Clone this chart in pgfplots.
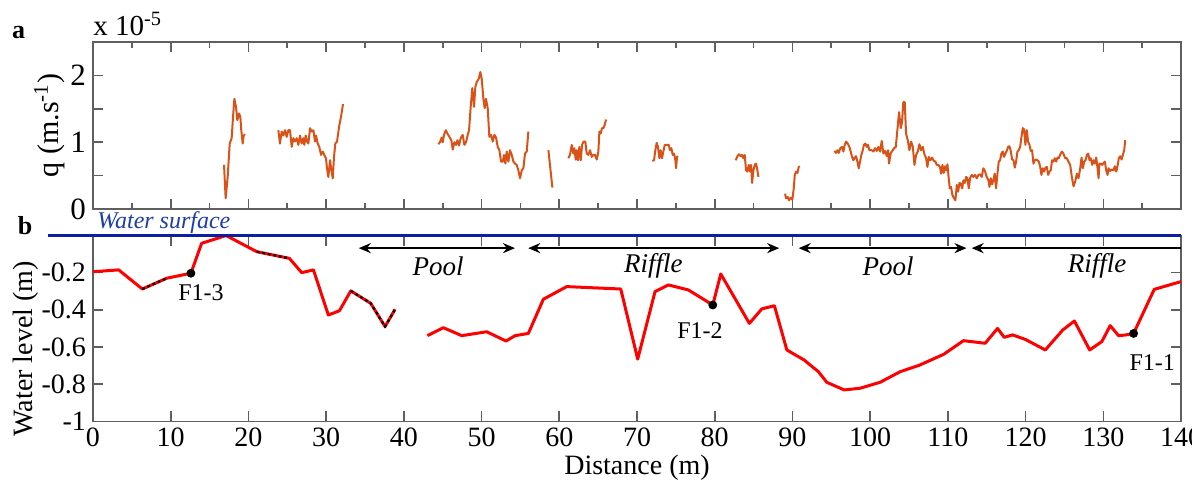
\documentclass[border=0pt]{standalone}
\usepackage{fontspec}
\setmainfont{Liberation Serif}
\usepackage{pgfplots}
\pgfplotsset{compat=1.18}
\usetikzlibrary{arrows.meta}
\definecolor{qorange}{RGB}{217,83,25}
\definecolor{wsblue}{RGB}{15,30,160}
\definecolor{wstext}{RGB}{30,60,170}
\definecolor{axgray}{RGB}{95,95,95}
\pgfplotsset{
  qseg/.style={qorange, line width=1pt, line join=round, no marks},
  commonax/.style={
    scale only axis, width=544pt, xmin=0, xmax=140,
    tick align=inside, xtick pos=both, ytick pos=both,
    major tick length=5pt, minor tick length=2.8pt,
    axis line style={axgray, line width=0.8pt},
    tick style={axgray, line width=0.8pt},
    tick label style={font=\fontsize{14}{16}\selectfont},
  },
}
\begin{document}
\begin{tikzpicture}[x=1pt,y=1pt]
\path[use as bounding box] (0,0) rectangle (596,242);
% ---------------- panel a ----------------
\begin{axis}[commonax,
  at={(46.5pt,137.5pt)}, anchor=south west, height=83.5pt,
  ymin=0, ymax=2.5,
  xtick={0,10,...,140}, minor xtick={5,15,...,135}, xticklabels={},
  ytick={0,0.5,1,1.5,2}, yticklabels={0,,1,,2},
  yticklabel style={font=\fontsize{15.5}{17}\selectfont},
  ylabel={q (m.s\textsuperscript{-1})},
  ylabel style={at={(axis description cs:-0.04,0.5)}, anchor=center, font=\fontsize{15}{17}\selectfont},
]
\addplot[qseg] coordinates {(16.86,0.66)(17.07,0.16)(17.33,0.48)(17.59,0.98)(17.84,1.06)(18.02,1.38)(18.19,1.65)(18.4,1.53)(18.57,1.33)(18.79,1.43)(18.96,1.38)(19.08,1.18)(19.26,0.98)(19.39,1.10)(19.56,1.12)};
\addplot[qseg] coordinates {(23.85,1.18)(24.06,0.98)(24.28,1.16)(24.49,1.10)(24.71,1.18)(24.92,1.08)(25.14,1.18)(25.35,1.18)(25.57,0.93)(25.78,1.06)(25.99,1.01)(26.21,1.06)(26.42,0.96)(26.64,1.10)(26.85,0.98)(27.06,1.06)(27.19,0.96)(27.37,1.10)(27.54,1.01)(27.71,0.98)(27.93,1.21)(28.14,1.16)(28.36,1.18)(28.57,1.01)(28.70,1.10)(28.91,0.98)(29.12,0.93)(29.34,0.81)(29.56,0.86)(29.76,0.81)(29.98,0.76)(30.11,0.61)(30.28,0.48)(30.50,0.73)(30.67,0.58)(30.85,0.46)(31.01,0.78)(31.18,0.98)(31.40,1.01)(31.66,1.23)(31.91,1.38)(32.17,1.57)};
\addplot[qseg] coordinates {(44.44,0.97)(44.65,1.00)(44.87,1.07)(45.0,1.00)(45.17,1.11)(45.39,1.18)(45.6,1.13)(45.86,1.08)(46.11,1.03)(46.29,0.89)(46.50,1.00)(46.72,0.96)(46.89,1.03)(47.10,0.95)(47.31,1.06)(47.57,1.11)(47.78,0.96)(48.0,1.00)(48.22,1.11)(48.39,1.18)(48.60,1.53)(48.81,1.81)(49.03,1.53)(49.20,1.83)(49.38,1.90)(49.64,1.95)(49.84,2.05)(50.02,1.95)(50.23,1.65)(50.40,1.51)(50.57,1.65)(50.79,1.51)(51.0,1.08)(51.22,1.11)(51.44,1.01)(51.65,1.11)(51.86,1.07)(52.08,0.93)(52.29,0.88)(52.50,0.71)(52.72,0.71)(52.89,0.81)(53.06,0.68)(53.24,0.86)(53.45,0.71)(53.66,0.88)(53.88,0.81)(54.09,0.71)(54.31,0.68)(54.52,0.66)(54.73,0.58)(54.95,0.46)(55.17,0.58)(55.38,0.61)(55.59,0.83)(55.81,0.86)(56.02,1.16)};
\addplot[qseg] coordinates {(58.6,0.88)(59.11,0.32)};
\addplot[qseg] coordinates {(61.17,0.76)(61.38,0.81)(61.60,0.96)(61.81,0.83)(61.94,0.91)(62.11,0.74)(62.24,0.88)(62.41,0.73)(62.58,0.93)(62.76,0.73)(62.93,0.96)(63.14,1.01)(63.35,1.01)(63.53,0.83)(63.74,0.81)(63.96,0.88)(64.17,0.78)(64.38,0.81)(64.60,0.81)(64.82,0.74)(65.03,0.86)(65.16,1.16)(65.33,1.13)(65.50,1.21)(65.67,1.21)(65.85,1.26)(66.02,1.34)};
\addplot[qseg] coordinates {(71.97,0.72)(72.19,0.73)(72.36,0.88)(72.53,0.99)(72.70,0.93)(72.88,0.76)(73.05,0.88)(73.22,0.76)(73.39,0.86)(73.57,0.96)(73.83,0.96)(74.08,0.96)(74.25,0.88)(74.42,0.91)(74.60,0.81)(74.77,0.83)(74.94,0.73)(75.03,0.61)(75.15,0.78)(75.28,0.79)};
\addplot[qseg] coordinates {(82.70,0.73)(82.92,0.79)(83.13,0.82)(83.35,0.79)(83.52,0.81)(83.69,0.76)(83.86,0.81)(84.03,0.58)(84.20,0.56)(84.38,0.66)(84.55,0.56)(84.68,0.66)(84.81,0.39)(84.98,0.58)(85.15,0.66)(85.32,0.68)(85.49,0.58)(85.62,0.48)};
\addplot[qseg] coordinates {(89.05,0.23)(89.18,0.16)(89.39,0.18)(89.56,0.13)(89.78,0.17)(89.99,0.14)(90.17,0.31)(90.30,0.51)(90.47,0.56)(90.64,0.54)(90.81,0.63)(90.94,0.64)};
\addplot[qseg] coordinates {(95.40,0.87)(95.61,0.84)(95.79,0.88)(95.96,0.84)(96.17,0.91)(96.38,0.93)(96.56,0.86)(96.73,0.96)(96.90,1.01)(97.11,0.98)(97.33,0.93)(97.50,0.86)(97.67,0.78)(97.84,0.73)(98.02,0.77)(98.19,0.79)(98.36,0.71)(98.53,0.61)(98.70,0.71)(98.87,0.81)(99.05,0.88)(99.2,0.96)(99.39,0.98)(99.56,0.93)(99.73,0.96)(99.9,0.88)(100.2,0.88)(100.42,0.86)(100.63,0.91)(100.85,0.87)(101.06,0.93)(101.28,0.86)(101.49,1.02)(101.70,0.83)(101.92,0.87)(102.14,0.79)(102.30,0.88)(102.43,0.68)(102.65,0.84)(102.86,0.87)(103.08,0.91)(103.30,0.93)(103.50,1.18)(103.72,1.45)(103.94,1.21)(104.10,1.30)(104.27,1.60)(104.45,1.60)(104.62,1.13)(104.84,1.03)(105.05,0.88)(105.27,1.01)(105.49,0.93)(105.70,0.66)(105.91,0.81)(106.13,0.86)(106.34,0.97)(106.56,0.88)(106.77,0.93)(106.98,0.82)(107.20,0.76)(107.37,0.63)(107.54,0.78)(107.75,0.73)(107.97,0.77)(108.19,0.72)(108.40,0.71)(108.57,0.66)(108.79,0.66)(109.0,0.62)(109.13,0.53)(109.30,0.66)(109.47,0.54)(109.64,0.64)(109.81,0.58)(109.94,0.67)(110.07,0.51)(110.24,0.31)(110.41,0.33)(110.58,0.21)(110.80,0.16)(110.97,0.13)(111.15,0.36)(111.32,0.26)(111.49,0.39)(111.66,0.38)(111.84,0.31)(112.0,0.43)(112.18,0.39)(112.34,0.48)(112.51,0.46)(112.69,0.31)(112.86,0.46)(113.07,0.51)(113.28,0.48)(113.50,0.51)(113.72,0.46)(113.93,0.51)(114.15,0.52)(114.36,0.48)(114.57,0.61)(114.79,0.56)(115.0,0.48)(115.22,0.43)(115.35,0.33)(115.52,0.46)(115.69,0.37)(115.86,0.43)(116.03,0.53)(116.20,0.31)(116.38,0.53)(116.55,0.71)(116.72,0.73)(116.89,0.83)(117.06,0.86)(117.23,0.78)(117.40,0.83)(117.58,0.87)(117.75,0.93)(117.92,0.94)(118.09,0.87)(118.27,0.74)(118.44,0.73)(118.61,0.62)(118.78,0.71)(118.95,0.86)(119.12,0.88)(119.30,0.93)(119.47,1.08)(119.64,1.21)(119.81,1.19)(119.98,0.96)(120.15,1.18)(120.32,1.01)(120.50,0.96)(120.67,0.87)(120.84,0.88)(121.01,0.68)(121.18,0.73)(121.35,0.74)(121.53,0.73)(121.70,0.71)(121.87,0.64)(122.04,0.51)(122.21,0.61)(122.38,0.56)(122.56,0.62)(122.73,0.63)(122.90,0.51)(123.07,0.56)(123.24,0.58)(123.41,0.73)(123.58,0.71)(123.76,0.76)(123.93,0.71)(124.10,0.77)(124.27,0.76)(124.44,0.81)(124.66,0.86)(124.87,0.83)(125.09,0.76)(125.31,0.76)(125.52,0.71)(125.74,0.66)(125.95,0.48)(126.17,0.34)(126.38,0.41)(126.60,0.53)(126.81,0.46)(127.03,0.61)(127.20,0.77)(127.37,0.61)(127.54,0.71)(127.71,0.73)(127.89,0.81)(128.06,0.83)(128.23,0.73)(128.40,0.76)(128.57,0.66)(128.74,0.73)(128.92,0.68)(129.09,0.77)(129.26,0.61)(129.39,0.46)(129.51,0.68)(129.69,0.68)(129.86,0.66)(130.03,0.69)(130.20,0.71)(130.37,0.58)(130.55,0.51)(130.67,0.61)(130.89,0.57)(131.10,0.59)(131.31,0.58)(131.49,0.64)(131.66,0.56)(131.83,0.64)(132.0,0.76)(132.18,0.79)(132.35,0.74)(132.52,0.81)(132.69,0.88)(132.82,1.03)};
\end{axis}
\node[font=\fontsize{13}{15}\selectfont\bfseries, anchor=base] at (9.25,223) {a};
\node[font=\fontsize{14.5}{16}\selectfont, anchor=base west, inner sep=0pt] at (46.5,224.2) {x 10\textsuperscript{-5}};
% ---------------- panel b ----------------
\begin{axis}[commonax,
  at={(46.5pt,31.35pt)}, anchor=south west, height=92.9pt,
  ymin=-1, ymax=0, clip=false,
  xtick={0,10,...,140}, xticklabels={0,10,20,30,40,50,60,70,80,90,100,110,120,130,140},
  ytick={-1,-0.8,-0.6,-0.4,-0.2}, yticklabels={-1,-0.8,-0.6,-0.4,-0.2},
  xlabel={Distance (m)},
  xlabel style={at={(axis description cs:0.5,0)}, anchor=center, yshift=-23.4pt, font=\fontsize{14}{16}\selectfont},
  ylabel={Water level (m)},
  ylabel style={at={(axis description cs:-0.062,0.39)}, anchor=center, font=\fontsize{14}{16}\selectfont},
]
\addplot[red, line width=1.5pt, line join=round, no marks] coordinates {(0,-0.195)(3.3,-0.185)(6.35,-0.288)(9.48,-0.23)(12.6,-0.203)(13.98,-0.042)(17.13,0)(21.07,-0.087)(25.27,-0.123)(26.86,-0.2)(28.36,-0.185)(30.29,-0.428)(31.71,-0.405)(33.17,-0.298)(35.74,-0.365)(37.58,-0.49)(38.87,-0.397)};
\addplot[red, line width=1.5pt, line join=round, no marks] coordinates {(43.02,-0.539)(45.08,-0.496)(47.44,-0.539)(50.66,-0.518)(53.15,-0.568)(54.3,-0.539)(56.02,-0.527)(57.95,-0.343)(60.96,-0.275)(67.91,-0.288)(70.09,-0.665)(72.32,-0.302)(74.04,-0.266)(76.61,-0.293)(79.75,-0.374)(80.78,-0.207)(84.46,-0.473)(86.06,-0.395)(87.68,-0.378)(89.28,-0.616)(91.5,-0.67)(93.34,-0.733)(94.42,-0.79)(96.65,-0.831)(98.71,-0.822)(101.28,-0.79)(103.86,-0.733)(106.22,-0.70)(109.44,-0.64)(112.01,-0.566)(114.8,-0.58)(116.39,-0.50)(117.25,-0.548)(118.33,-0.535)(119.96,-0.559)(122.54,-0.616)(124.77,-0.509)(126.28,-0.46)(128.25,-0.616)(129.81,-0.571)(130.89,-0.485)(131.96,-0.539)(132.95,-0.535)(133.9,-0.527)(136.55,-0.29)(140,-0.248)};
% dotted overlays
\addplot[black, line width=1.1pt, dash pattern=on 1.4pt off 1.4pt, no marks] coordinates {(6.35,-0.288)(9.48,-0.23)};
\addplot[black, line width=1.1pt, dash pattern=on 1.4pt off 1.4pt, no marks] coordinates {(21.07,-0.087)(25.27,-0.123)};
\addplot[black, line width=1.1pt, dash pattern=on 1.4pt off 1.4pt, no marks] coordinates {(33.17,-0.298)(35.74,-0.365)(37.58,-0.49)(38.87,-0.397)};
% water surface
\addplot[wsblue, line width=1.2pt, no marks] coordinates {(-5.8,0)(140,0)};
% sampling points
\addplot[only marks, mark=*, mark size=2pt, black] coordinates {(12.6,-0.203)(79.75,-0.374)(133.9,-0.527)};
% arrows
\draw[black, line width=1pt, {Stealth[length=6pt,width=5pt]}-{Stealth[length=6pt,width=5pt]}] (axis cs:34.2,-0.068) -- (axis cs:54.3,-0.068);
\draw[black, line width=1pt, {Stealth[length=6pt,width=5pt]}-{Stealth[length=6pt,width=5pt]}] (axis cs:56.0,-0.068) -- (axis cs:88.3,-0.068);
\draw[black, line width=1pt, {Stealth[length=6pt,width=5pt]}-{Stealth[length=6pt,width=5pt]}] (axis cs:90.8,-0.068) -- (axis cs:112.4,-0.068);
\draw[black, line width=1pt, {Stealth[length=6pt,width=5pt]}-] (axis cs:113.06,-0.068) -- (axis cs:140,-0.068);
\node[font=\fontsize{13.5}{15}\selectfont\itshape] at (axis cs:44.4,-0.164) {Pool};
\node[font=\fontsize{13.5}{15}\selectfont\itshape] at (axis cs:72.1,-0.164) {Riffle};
\node[font=\fontsize{13.5}{15}\selectfont\itshape] at (axis cs:102.3,-0.164) {Pool};
\node[font=\fontsize{13.5}{15}\selectfont\itshape] at (axis cs:129.2,-0.164) {Riffle};
\node[font=\fontsize{12}{14}\selectfont] at (axis cs:13.9,-0.31) {F1-3};
\node[font=\fontsize{12}{14}\selectfont] at (axis cs:78.1,-0.51) {F1-2};
\node[font=\fontsize{12}{14}\selectfont] at (axis cs:136.3,-0.685) {F1-1};
\node[font=\fontsize{12}{14}\selectfont\itshape, text=wstext, anchor=base west, inner sep=0pt] at (axis cs:0.5,0.04) {Water surface};
\end{axis}
\node[font=\fontsize{13}{15}\selectfont\bfseries, anchor=base] at (12.5,125) {b};
\end{tikzpicture}
\end{document}
